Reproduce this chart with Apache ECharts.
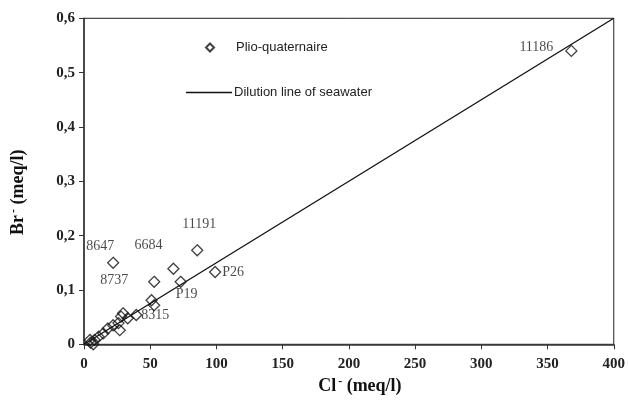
<!DOCTYPE html>
<html>
<head>
<meta charset="utf-8">
<script src="https://cdn.jsdelivr.net/npm/echarts@6/dist/echarts.min.js"></script>
<style>
html,body{margin:0;padding:0;background:#fff;}
#chart{width:628px;height:406px;}
</style>
</head>
<body>
<div id="chart"></div>
<script>
// ---- data ----
const clValues = [368, 85.5, 22, 67.5, 53, 73, 99, 51, 53, 39.5, 33, 29.5, 28, 26, 27, 22, 18, 14.5, 11, 8, 5, 7, 4.5];
const brValues = [0.540, 0.173, 0.150, 0.139, 0.115, 0.115, 0.133, 0.081, 0.072, 0.054, 0.048, 0.057, 0.051, 0.039, 0.026, 0.035, 0.029, 0.020, 0.014, 0.008, 0.003, 0.000, 0.008];
const sampleIds = ['11186', '11191', '8647', '6684', '8737', 'P19', 'P26', '', '', '8315', '', '', '', '', '', '', '', '', '', '', '', '', ''];
const dilutionCl = [0, 400];
const dilutionBr = [0, 0.6];
const seriesNames = ['Plio-quaternaire', 'Dilution line of seawater'];
const xTicks = [0, 50, 100, 150, 200, 250, 300, 350, 400];
const yTicks = ['0', '0,1', '0,2', '0,3', '0,4', '0,5', '0,6'];

// ---- label placement (style) ----
const labelOffsets = {
  '11186': [-35, -4], '11191': [2, -26], '8647': [-13, -16], '6684': [-25, -23],
  '8737': [-40, -1], 'P19': [6, 13], 'P26': [18, 0], '8315': [19, 0]
};

const scatterData = clValues.map((x, i) => {
  const id = sampleIds[i];
  const item = { value: [x, brValues[i]], name: id };
  if (id) {
    item.label = {
      show: true, position: 'inside', offset: labelOffsets[id] || [0, 0],
      formatter: id, fontFamily: 'Liberation Serif', fontSize: 14, color: '#1a1a1a'
    };
  }
  return item;
});
const lineData = dilutionCl.map((x, i) => [x, dilutionBr[i]]);

const chart = echarts.init(document.getElementById('chart'), null, { renderer: 'canvas' });
const titleRich = {
  b: { fontFamily: 'Liberation Serif', fontWeight: 'bold', fontSize: 18, color: '#111', lineHeight: 20 },
  s: { fontFamily: 'Liberation Serif', fontWeight: 'bold', fontSize: 12, color: '#111', verticalAlign: 'top', lineHeight: 20, padding: [0, 0, 8, 2] }
};
const legendText = { fontFamily: 'Liberation Sans', fontSize: 13, color: '#222' };
chart.setOption({
  animation: false,
  backgroundColor: '#fff',
  grid: { left: 82.5, right: 11.3, top: 18.3, bottom: 61.7, show: true, borderColor: '#222', borderWidth: 1 },
  legend: [
    {
      left: 200, top: 36, itemWidth: 8, itemHeight: 8, selectedMode: false,
      data: [{ name: seriesNames[0], icon: 'diamond' }],
      textStyle: Object.assign({ padding: [0, 0, 0, 17] }, legendText)
    },
    {
      left: 181, top: 81, itemWidth: 46, itemHeight: 1.3, selectedMode: false,
      data: [{ name: seriesNames[1], icon: 'rect' }],
      textStyle: Object.assign({ padding: [0, 0, 0, -3] }, legendText)
    }
  ],
  xAxis: {
    type: 'value', min: 0, max: 400, interval: 50,
    name: '{b|Cl}{s|-}{b| (meq/l)}', nameLocation: 'middle', nameGap: 32,
    nameTextStyle: { rich: titleRich, padding: [0, 0, 0, 22] },
    axisLine: { show: true, onZero: false, lineStyle: { color: '#333', width: 1.5 } },
    axisTick: { show: true, length: 5, lineStyle: { color: '#333' } },
    splitLine: { show: false },
    axisLabel: {
      margin: 12, fontFamily: 'Liberation Serif', fontWeight: 'bold', fontSize: 15, color: '#222',
      formatter: v => String(xTicks[Math.round(v / 50)])
    }
  },
  yAxis: {
    type: 'value', min: 0, max: 0.6, interval: 0.1,
    name: '{b|Br}{s|-}{b| (meq/l)}', nameLocation: 'middle', nameGap: 56, nameRotate: 90,
    nameTextStyle: { rich: titleRich, padding: [0, 22, 0, 0] },
    axisLine: { show: true, onZero: false, lineStyle: { color: '#333', width: 1.5 } },
    axisTick: { show: true, length: 5, lineStyle: { color: '#333' } },
    splitLine: { show: false },
    axisLabel: {
      margin: 9, fontFamily: 'Liberation Serif', fontWeight: 'bold', fontSize: 15, color: '#222',
      formatter: v => yTicks[Math.round(v * 10)]
    }
  },
  series: [
    {
      name: seriesNames[0], type: 'scatter', symbol: 'diamond', symbolSize: 11, clip: false, z: 3,
      itemStyle: { color: 'rgba(255,255,255,0)', borderColor: '#111', borderWidth: 1.3 },
      data: scatterData
    },
    {
      name: seriesNames[1], type: 'line', symbol: 'none', showSymbol: false, z: 2,
      itemStyle: { color: '#111' },
      lineStyle: { color: '#111', width: 1.3 },
      data: lineData
    }
  ]
});
</script>
</body>
</html>
